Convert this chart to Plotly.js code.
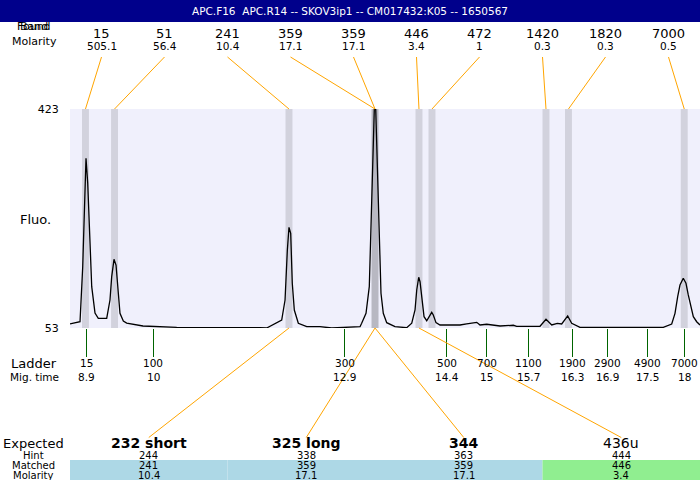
<!DOCTYPE html>
<html><head><meta charset="utf-8">
<script src="https://cdn.plot.ly/plotly-3.0.1.min.js"></script>
<style>html,body{margin:0;padding:0;background:#fff}#chart{width:700px;height:480px}</style>
</head><body><div id="chart"></div>
<script>
// ---------------- data ----------------
const titleText = 'APC.F16\u00a0\u00a0APC.R14 -- SKOV3ip1 -- CM017432:K05 -- 1650567';

// electropherogram (migration time in s, fluorescence)
const traceTime = [8.657,8.809,8.850,8.874,8.900,8.926,8.950,8.987,9.037,9.087,9.215,9.265,9.291,9.326,9.357,9.382,9.417,9.468,9.519,9.767,10.280,11.548,11.650,11.878,11.929,11.964,11.989,12.015,12.039,12.070,12.131,12.259,12.461,12.639,13.070,13.095,13.161,13.211,13.237,13.257,13.272,13.287,13.309,13.324,13.344,13.363,13.389,13.424,13.476,13.602,13.780,13.857,13.907,13.933,13.963,13.983,14.009,14.044,14.085,14.124,14.161,14.185,14.226,14.287,14.591,14.693,14.846,14.896,14.998,15.200,15.403,15.454,15.809,15.900,15.987,16.072,16.139,16.230,16.291,16.417,17.685,17.813,17.863,17.904,17.939,17.989,18.030,18.065,18.102,18.142,18.193,18.243];
const traceFluo = [59.8,63.6,156.6,269.3,339.7,298.0,213.5,122.8,78.3,69.4,69.4,100.3,139.7,169.0,159.4,122.8,77.8,64.8,61.4,56.4,54.2,53.5,53.0,66.5,100.3,184.8,223.1,213.0,128.5,83.4,61.0,55.2,55.2,53.0,55.2,60.9,77.8,122.8,213.0,297.5,370.6,422.5,422.5,365.0,269.3,179.2,111.6,77.8,62.0,55.2,53.5,61.0,83.4,117.2,138.7,131.2,100.3,72.1,65.3,72.1,79.5,75.0,62.0,58.1,58.1,59.8,62.6,58.1,59.3,56.4,57.6,55.9,55.9,67.7,58.1,60.9,59.8,73.3,60.9,54.2,54.2,59.8,77.8,105.9,125.6,137.0,128.5,108.8,89.0,72.1,63.6,58.1];

// found peaks
const foundSize     = ['15','51','241','359','359','446','472','1420','1820','7000'];
const foundMolarity = ['505.1','56.4','10.4','17.1','17.1','3.4','1','0.3','0.3','0.5'];
const foundTime     = [8.892,9.334,11.989,13.298,13.298,13.967,14.165,15.900,16.242,18.004];

// ladder
const ladderSize = ['15','100','300','500','700','1100','1900','2900','4900','7000'];
const ladderMig  = ['8.9','10','12.9','14.4','15','15.7','16.3','16.9','17.5','18'];
const ladderTime = [8.90,9.92,12.84,14.39,15.00,15.64,16.30,16.84,17.45,18.00];

// expected table
const expectedLabel   = ['232 short','325 long','344','436u'];
const expectedHint    = ['244','338','363','444'];
const expectedMatched = ['241','359','359','446'];
const expectedMolar   = ['10.4','17.1','17.1','3.4'];
const expectedFound   = [2,3,4,5];          // index into found peaks
const expectedStatus  = ['expected','expected','expected','unexpected'];

const yTickVals = [53,423];

// ---------------- layout helpers ----------------
const XR = [8.6565, 18.2435];
const YR = [53, 423];
const L = 70, T = 109, PW = 630, PH = 219;
const px = x => (x - L) / PW;
const py = y => (T + PH - y) / PH;
const tp = t => (t - XR[0]) / (XR[1] - XR[0]);
const FONT = 'DejaVu Sans';

const annotations = [];
const shapes = [];
function ann(text, x, y, size, extra) {
  annotations.push(Object.assign({
    text: text, x: x, y: y, xref: 'paper', yref: 'paper',
    xanchor: 'center', yanchor: 'middle', showarrow: false,
    font: {family: FONT, size: size, color: '#000'}
  }, extra || {}));
}

// left labels (the top two overlap, partly hidden by the title bar, as in the original)
ann('Band', px(34), py(27), 11);
ann('Found', px(34), py(27), 11);
ann('Molarity', px(34), py(41), 11);
ann('Fluo.', px(35), py(219), 13);
ann('Ladder', px(34), py(363), 13);
ann('Mig. time', px(34), py(377), 10.5);
ann('Expected', px(33), py(443), 13);
ann('Hint', px(33), py(455), 10);
ann('Matched', px(33), py(465), 10);
ann('Molarity', px(33), py(475), 10);

// title bar (drawn after the labels so it covers them)
ann(titleText, px(350), py(11), 10.5, {
  font: {family: FONT, size: 10.5, color: '#fff'},
  bgcolor: '#00008b', width: 700, height: 22, borderpad: 0, borderwidth: 0
});

// ladder labels (placed on the x axis scale)
ladderSize.forEach((s, i) => {
  ann(s, ladderTime[i], py(363), 10.5, {xref: 'x'});
  ann(ladderMig[i], ladderTime[i], py(377), 10.5, {xref: 'x'});
});

// found peaks: bands, labels and connectors
const nF = foundSize.length;
foundSize.forEach((s, i) => {
  const lx = (i + 0.5) / nF;
  shapes.push({type: 'rect', xref: 'x', yref: 'y', x0: foundTime[i] - 0.053, x1: foundTime[i] + 0.053,
    y0: YR[0], y1: YR[1], fillcolor: 'rgba(0,0,0,0.12)', line: {width: 0}, layer: 'below'});
  ann(s, lx, py(33), 13);
  ann(foundMolarity[i], lx, py(46), 10.5);
  shapes.push({type: 'line', xref: 'paper', yref: 'paper', x0: lx, y0: py(57), x1: tp(foundTime[i]), y1: py(109),
    line: {color: '#ffa500', width: 1}});
});

// expected table
const nE = expectedLabel.length;
expectedLabel.forEach((lab, j) => {
  const cx = (j + 0.5) / nE;
  const fc = expectedStatus[j] === 'expected' ? '#add8e6' : '#90ee90';
  shapes.push({type: 'rect', xref: 'paper', yref: 'paper', x0: j / nE, x1: (j + 1) / nE, y0: py(480), y1: py(460),
    fillcolor: fc, line: {width: 0}, layer: 'below'});
  const bold = expectedStatus[j] === 'expected';
  ann(bold ? '<b>' + lab + '</b>' : lab, cx, py(443), 14);
  ann(expectedHint[j], cx, py(455), 10);
  ann(expectedMatched[j], cx, py(465), 10);
  ann(expectedMolar[j], cx, py(475), 10);
  shapes.push({type: 'line', xref: 'paper', yref: 'paper', x0: tp(foundTime[expectedFound[j]]), y0: py(328),
    x1: cx, y1: py(437.5), line: {color: '#ffa500', width: 1}});
});

const data = [{
  type: 'scatter', mode: 'lines', x: traceTime, y: traceFluo,
  line: {color: '#000', width: 1.3}, hoverinfo: 'skip'
}];

const layout = {
  width: 700, height: 480,
  margin: {l: 70, r: 0, t: 109, b: 152, pad: 0},
  paper_bgcolor: '#fff', plot_bgcolor: '#f0f0fc',
  showlegend: false,
  font: {family: FONT, color: '#000'},
  xaxis: {
    range: XR, showgrid: false, zeroline: false, showline: false,
    tickmode: 'array', tickvals: ladderTime, showticklabels: false,
    ticks: 'outside', ticklen: 28, tickwidth: 1, tickcolor: '#006400', fixedrange: true
  },
  yaxis: {
    range: YR, showgrid: false, zeroline: false, showline: false,
    tickmode: 'array', tickvals: yTickVals, ticktext: yTickVals.map(String),
    ticks: 'outside', ticklen: 8, tickcolor: 'rgba(0,0,0,0)',
    tickfont: {family: FONT, size: 11, color: '#000'}, fixedrange: true
  },
  shapes: shapes,
  annotations: annotations
};

Plotly.newPlot('chart', data, layout, {staticPlot: true, displayModeBar: false});
</script>
</body></html>
